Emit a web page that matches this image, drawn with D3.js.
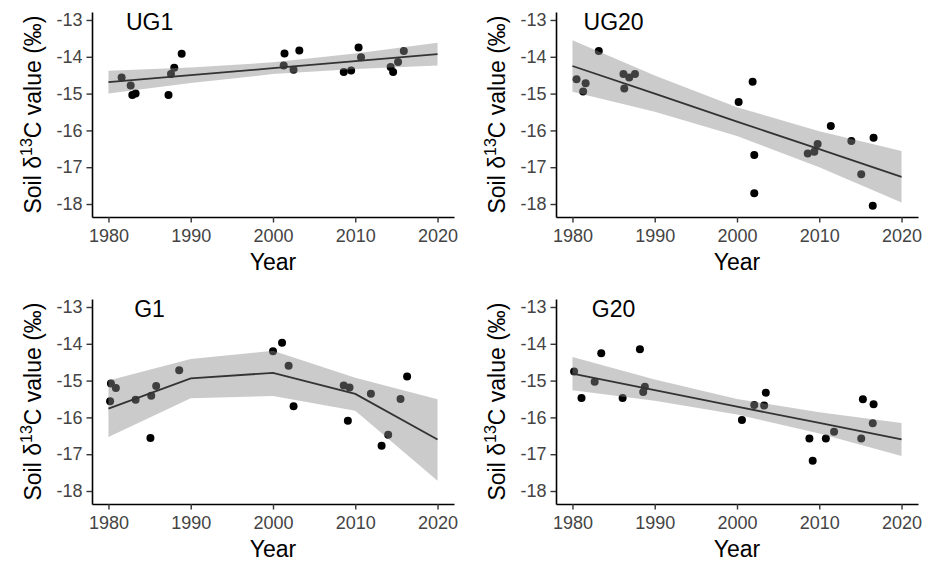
<!DOCTYPE html>
<html>
<head>
<meta charset="utf-8">
<script src="https://cdn.jsdelivr.net/npm/d3@7"></script>
<style>
	body { margin: 0; background: #fff; }
	text { font-family: 'Liberation Sans', Arial, sans-serif; }
</style>
</head>
<body>
<div id="chart"></div>
<script>
// panel names, in drawing order
var panelNames = ['UG1', 'UG20', 'G1', 'G20'];

// sampled soil d13C values
var ug1Year = [1981.6, 1982.7, 1982.9, 1983.3, 1987.3, 1987.6, 1988.0, 1988.9, 2001.3, 2001.4, 2002.5, 2003.2, 2008.6, 2009.5, 2010.4, 2010.7, 2014.3, 2014.6, 2015.2, 2015.9];
var ug1Val = [-14.56, -14.78, -15.04, -15.0, -15.04, -14.47, -14.3, -13.92, -14.24, -13.91, -14.35, -13.83, -14.41, -14.37, -13.75, -14.01, -14.28, -14.41, -14.14, -13.84];

var ug20Year = [1980.5, 1981.3, 1981.6, 1983.2, 1986.2, 1986.3, 1986.9, 1987.6, 2000.2, 2001.9, 2002.1, 2002.1, 2008.6, 2009.4, 2009.8, 2011.4, 2013.9, 2015.1, 2016.6, 2016.5];
var ug20Val = [-14.61, -14.94, -14.72, -13.84, -14.47, -14.86, -14.56, -14.47, -15.23, -14.68, -16.67, -17.71, -16.63, -16.58, -16.37, -15.88, -16.29, -17.19, -16.2, -18.05];

var g1Year = [1980.2, 1980.3, 1980.9, 1983.3, 1985.1, 1985.2, 1985.8, 1988.6, 2000.0, 2001.1, 2001.9, 2002.5, 2008.6, 2009.3, 2009.1, 2011.9, 2013.2, 2014.0, 2015.5, 2016.3];
var g1Val = [-15.56, -15.08, -15.2, -15.52, -16.56, -15.41, -15.15, -14.72, -14.2, -13.97, -14.6, -15.7, -15.13, -15.19, -16.09, -15.36, -16.77, -16.47, -15.5, -14.89];

var g20Year = [1980.2, 1981.1, 1982.7, 1983.5, 1986.1, 1988.2, 1988.8, 1988.6, 2000.6, 2002.1, 2003.3, 2003.5, 2008.8, 2009.2, 2010.8, 2011.8, 2015.1, 2015.3, 2016.6, 2016.5];
var g20Val = [-14.75, -15.47, -15.03, -14.26, -15.47, -14.15, -15.17, -15.31, -16.07, -15.66, -15.68, -15.33, -16.57, -17.18, -16.57, -16.39, -16.57, -15.51, -15.64, -16.16];

// fitted trend and its confidence band
var fitYears = [1980, 1990, 2000, 2010, 2020];
var ug1Fit = [-14.69, -14.50, -14.31, -14.12, -13.93];
var ug1Lo = [-15.00, -14.71, -14.47, -14.33, -14.24];
var ug1Hi = [-14.38, -14.29, -14.15, -13.91, -13.62];
var ug20Fit = [-14.25, -15.00, -15.76, -16.51, -17.26];
var ug20Lo = [-14.95, -15.49, -16.15, -17.00, -17.96];
var ug20Hi = [-13.55, -14.51, -15.37, -16.02, -16.56];
var g1Fit = [-15.76, -14.94, -14.79, -15.36, -16.60];
var g1Lo = [-16.53, -15.48, -15.42, -15.82, -17.72];
var g1Hi = [-15.00, -14.41, -14.19, -14.92, -15.51];
var g20Fit = [-14.81, -15.26, -15.71, -16.15, -16.60];
var g20Lo = [-15.26, -15.55, -15.92, -16.44, -17.05];
var g20Hi = [-14.36, -14.97, -15.50, -15.86, -16.15];

var xTicks = [1980, 1990, 2000, 2010, 2020];
var yTicks = [-18, -17, -16, -15, -14, -13];

var panels = [
	{ name: panelNames[0], year: ug1Year, val: ug1Val, fit: ug1Fit, lo: ug1Lo, hi: ug1Hi, dx: 0, dy: 0 },
	{ name: panelNames[1], year: ug20Year, val: ug20Val, fit: ug20Fit, lo: ug20Lo, hi: ug20Hi, dx: 464, dy: 0 },
	{ name: panelNames[2], year: g1Year, val: g1Val, fit: g1Fit, lo: g1Lo, hi: g1Hi, dx: 0, dy: 287 },
	{ name: panelNames[3], year: g20Year, val: g20Val, fit: g20Fit, lo: g20Lo, hi: g20Hi, dx: 464, dy: 287 }
];

var svg = d3.select('#chart')
	.append('svg')
	.attr('width', 934)
	.attr('height', 562);

var xScale = d3.scaleLinear().domain([1978, 2022]).range([92, 454]);
var yScale = d3.scaleLinear().domain([-18.353, -12.783]).range([217, 12]);

var area = d3.area()
	.x(function(d) { return xScale(d.x); })
	.y0(function(d) { return yScale(d.lo); })
	.y1(function(d) { return yScale(d.hi); });

var line = d3.line()
	.x(function(d) { return xScale(d.x); })
	.y(function(d) { return yScale(d.y); });

// plain hyphen for negatives, like the reference
var plainFormat = function(d) { return String(d); };

panels.forEach(function(p) {
	var g = svg.append('g')
		.attr('transform', 'translate(' + p.dx + ',' + p.dy + ')');

	var pts = p.year.map(function(y, i) { return { x: y, y: p.val[i] }; });
	var band = fitYears.map(function(y, i) {
		return { x: y, y: p.fit[i], lo: p.lo[i], hi: p.hi[i] };
	});

	// points go under the band, like ggplot does
	g.selectAll('circle')
		.data(pts)
		.enter()
		.append('circle')
		.attr('cx', function(d) { return xScale(d.x); })
		.attr('cy', function(d) { return yScale(d.y); })
		.attr('r', 4)
		.attr('fill', '#000');

	g.append('path')
		.datum(band)
		.attr('d', area)
		.attr('fill', '#8c8c8c')
		.attr('fill-opacity', 0.45);

	g.append('path')
		.datum(band)
		.attr('d', line)
		.attr('fill', 'none')
		.attr('stroke', '#333')
		.attr('stroke-width', 1.8);

	var xAxis = g.append('g')
		.attr('transform', 'translate(0,' + yScale.range()[0] + ')')
		.call(d3.axisBottom(xScale).tickValues(xTicks).tickFormat(plainFormat)
			.tickSize(5.5).tickSizeOuter(0).tickPadding(7));

	var yAxis = g.append('g')
		.attr('transform', 'translate(' + xScale.range()[0] + ',0)')
		.call(d3.axisLeft(yScale).tickValues(yTicks).tickFormat(plainFormat)
			.tickSize(5.5).tickSizeOuter(0).tickPadding(4));

	[xAxis, yAxis].forEach(function(ax) {
		ax.select('.domain').attr('stroke', '#000').attr('stroke-width', 1.6);
		ax.selectAll('.tick line').attr('stroke', '#333').attr('stroke-width', 1.4);
		ax.selectAll('.tick text')
			.attr('fill', '#444')
			.style('font-size', '18px')
			.style('font-family', "'Liberation Sans', Arial, sans-serif");
	});

	g.append('text')
		.attr('x', xScale(1985))
		.attr('y', yScale(-13) + 10)
		.attr('text-anchor', 'middle')
		.style('font-size', '23px')
		.text(p.name);

	g.append('text')
		.attr('x', (xScale.range()[0] + xScale.range()[1]) / 2)
		.attr('y', 270)
		.attr('text-anchor', 'middle')
		.style('font-size', '23px')
		.text('Year');

	var yt = g.append('text')
		.attr('transform', 'translate(41,' + ((yScale.range()[0] + yScale.range()[1]) / 2) + ') rotate(-90)')
		.attr('text-anchor', 'middle')
		.style('font-size', '23px');
	yt.append('tspan').text('Soil \u03B4');
	yt.append('tspan').attr('dy', -9).style('font-size', '16px').text('13');
	yt.append('tspan').attr('dy', 9).text('C value (\u2030)');
});
</script>
</body>
</html>
